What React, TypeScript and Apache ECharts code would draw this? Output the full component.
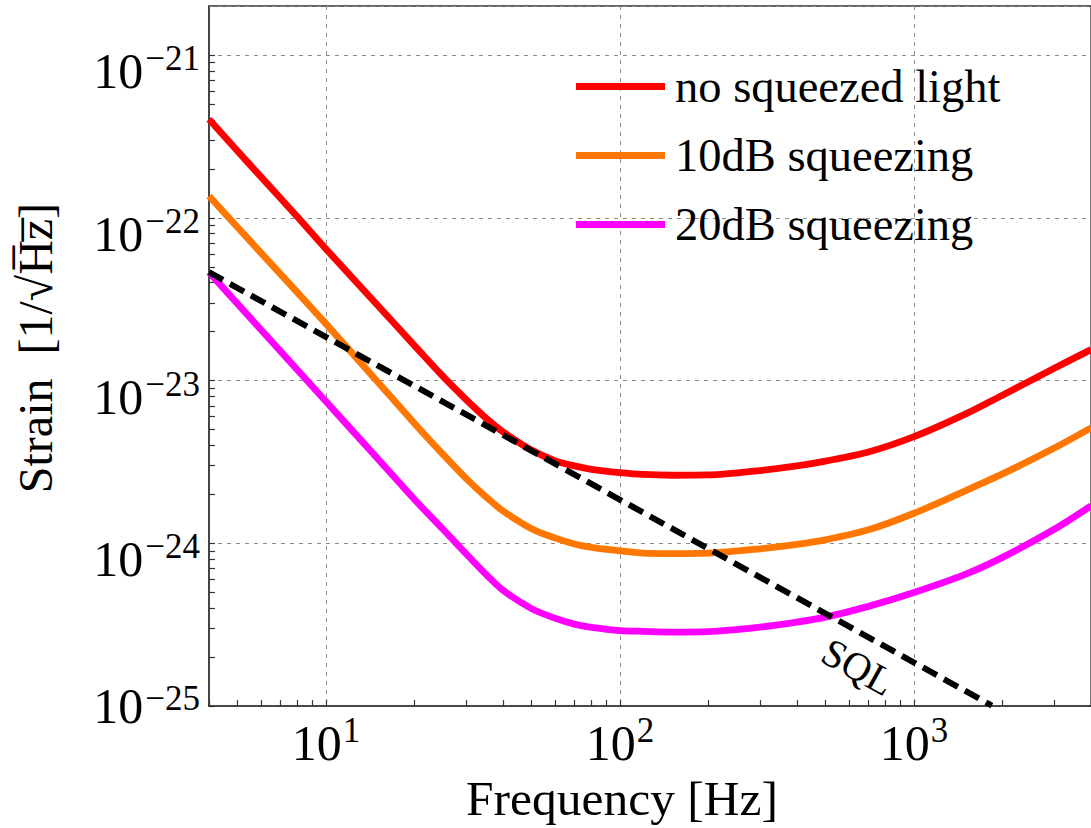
import React, { useEffect, useRef } from 'react';
import * as echarts from 'echarts';

// Frequencies in Hz at which the curves were read
const frequencies = [4, 5, 6, 8, 10, 15, 20, 25, 30, 35, 40, 50, 60, 70, 80, 100, 120, 150, 200, 300, 400, 500, 700, 1000, 1500, 2000, 3000, 4000];
// Strain [1/sqrt(Hz)]
const noSqueezedLight = [4.03e-22, 2.57e-22, 1.79e-22, 1.01e-22, 6.43e-23, 2.89e-23, 1.64e-23, 1.06e-23, 7.62e-24, 5.88e-24, 4.84e-24, 3.74e-24, 3.22e-24, 2.99e-24, 2.85e-24, 2.72e-24, 2.65e-24, 2.62e-24, 2.63e-24, 2.8e-24, 2.99e-24, 3.2e-24, 3.64e-24, 4.52e-24, 6.24e-24, 8.13e-24, 1.19e-23, 1.55e-23];
const squeezing10dB = [1.36e-22, 8.75e-23, 6.11e-23, 3.47e-23, 2.23e-23, 9.8e-24, 5.45e-24, 3.52e-24, 2.5e-24, 1.93e-24, 1.58e-24, 1.23e-24, 1.08e-24, 9.91e-25, 9.44e-25, 8.99e-25, 8.71e-25, 8.65e-25, 8.71e-25, 9.26e-25, 9.85e-25, 1.05e-24, 1.21e-24, 1.53e-24, 2.11e-24, 2.67e-24, 3.85e-24, 5.12e-24];
const squeezing20dB = [4.63e-23, 2.96e-23, 2.06e-23, 1.16e-23, 7.43e-24, 3.31e-24, 1.86e-24, 1.22e-24, 8.6e-25, 6.45e-25, 5.15e-25, 3.97e-25, 3.47e-25, 3.19e-25, 3.05e-25, 2.91e-25, 2.88e-25, 2.85e-25, 2.87e-25, 3.06e-25, 3.28e-25, 3.52e-25, 4.1e-25, 4.99e-25, 6.47e-25, 8.2e-25, 1.22e-24, 1.7e-24];
// Standard quantum limit (straight line in log-log)
const sqlFrequencies = [4, 1840];
const sqlStrain = [4.63e-23, 1.007e-25];

const seriesNames = ['no squeezed light', '10dB squeezing', '20dB squeezing'];
const seriesColors = ['#ff0000', '#ff7700', '#ff00ff'];

// Axis ranges and tick labels
const xRange = [4, 4000];
const yRange = [1e-25, 2e-21];
const xLabelValues = [10, 100, 1000];
const yLabelValues = [1e-25, 1e-24, 1e-23, 1e-22, 1e-21];
const minorMultipliers = [1, 2, 3, 4, 5, 6, 7, 8, 9];

// ECharts rounds very small numbers on log axes, so strain is plotted in units of 1e-25
const STRAIN_UNIT_EXP = -25;
const toUnit = (v: number) => v / Math.pow(10, STRAIN_UNIT_EXP);

const FONT = '"Liberation Serif", "Times New Roman", serif';

const buildMinorTicks = (decades: number[], lo: number, hi: number) => {
  const out: number[] = [];
  decades.forEach((d) => minorMultipliers.forEach((m) => {
    const v = d * m;
    if (v >= lo * 0.999 && v <= hi * 1.001) out.push(v);
  }));
  return out;
};

const isDecade = (v: number) => Math.abs(Math.log10(v) - Math.round(Math.log10(v))) < 1e-6;
const expOf = (v: number) => Math.round(Math.log10(v));

export default function App() {
  const ref = useRef<HTMLDivElement>(null);

  useEffect(() => {
    if (!ref.current) return;
    const chart = echarts.init(ref.current, undefined, { renderer: 'svg' });

    const yMin = toUnit(yRange[0]);
    const yMax = toUnit(yRange[1]);
    const xMinor = buildMinorTicks([1, 10, 100, 1000], xRange[0], xRange[1]);
    const yMinor = buildMinorTicks(yLabelValues.map(toUnit), yMin, yMax);

    const mk = (ys: number[]) => frequencies.map((f, i) => [f, toUnit(ys[i])]);
    const curves = [noSqueezedLight, squeezing10dB, squeezing20dB];

    const axisColor = '#333333';
    const gridLine = { show: true, lineStyle: { color: '#8c8c8c', width: 1, type: [4, 5] as any } };
    const hidden = { show: false };

    const xRich = {
      b: { fontSize: 50, fontFamily: FONT, color: '#000', lineHeight: 50, padding: [5, 0, 0, 0], verticalAlign: 'top' },
      s: { fontSize: 35, fontFamily: FONT, color: '#000', lineHeight: 35, padding: [0, 0, 0, 1], verticalAlign: 'top' },
    };
    const yRich = {
      b: { fontSize: 50, fontFamily: FONT, color: '#000', lineHeight: 50, padding: [16, 0, 0, 0], verticalAlign: 'top' },
      s: { fontSize: 35, fontFamily: FONT, color: '#000', lineHeight: 35, padding: [11, 0, 0, 2], verticalAlign: 'top' },
      // lowest label sits a little higher, clear of the frequency labels
      b0: { fontSize: 50, fontFamily: FONT, color: '#000', lineHeight: 50, padding: [0, 0, 16, 0], verticalAlign: 'top' },
      s0: { fontSize: 35, fontFamily: FONT, color: '#000', lineHeight: 30, padding: [0, 0, 0, 2], verticalAlign: 'top' },
    };

    const yFormatter = (v: number) => {
      if (!isDecade(v)) return '';
      const e = -(expOf(v) + STRAIN_UNIT_EXP);
      const low = Math.abs(v - yMin) < 1e-9;
      return low ? `{b0|10}{s0|\u2212${e}}` : `{b|10}{s|\u2212${e}}`;
    };

    chart.setOption({
      animation: false,
      backgroundColor: '#ffffff',
      grid: {
        left: 209, right: -5, top: 6, bottom: 120,
        show: true, borderColor: axisColor, borderWidth: 1.3, backgroundColor: 'transparent',
      },
      legend: {
        data: seriesNames,
        orient: 'vertical',
        left: 571,
        top: 58,
        icon: 'rect',
        itemWidth: 89,
        itemHeight: 7,
        itemGap: 22,
        selectedMode: false,
        textStyle: { fontSize: 46.5, fontFamily: FONT, color: '#000', lineHeight: 46, padding: [0, 0, 0, 5] },
      },
      xAxis: [
        {
          type: 'log',
          logBase: 10,
          min: xRange[0],
          max: xRange[1],
          position: 'bottom',
          axisLine: { show: true, lineStyle: { color: axisColor, width: 1.5 } },
          axisTick: hidden,
          minorTick: hidden,
          splitLine: gridLine,
          axisLabel: {
            customValues: xLabelValues,
            margin: 7,
            formatter: (v: number) => (isDecade(v) ? `{b|10}{s|${expOf(v)}}` : ''),
            rich: xRich,
          },
          name: 'Frequency [Hz]',
          nameLocation: 'middle',
          nameGap: 66,
          nameTextStyle: { fontSize: 49.5, fontFamily: FONT, color: '#000', padding: [0, 56, 0, 0] },
        },
        {
          type: 'log',
          logBase: 10,
          min: xRange[0],
          max: xRange[1],
          position: 'bottom',
          axisLine: hidden,
          axisTick: { show: true, inside: true, length: 6, customValues: xMinor, lineStyle: { color: axisColor, width: 1.2 } },
          minorTick: hidden,
          splitLine: hidden,
          axisLabel: hidden,
        },
      ],
      yAxis: [
        {
          type: 'log',
          logBase: 10,
          min: yMin,
          max: yMax,
          position: 'left',
          axisLine: { show: true, lineStyle: { color: axisColor, width: 1.5 } },
          axisTick: hidden,
          minorTick: hidden,
          splitLine: gridLine,
          axisLabel: {
            customValues: yLabelValues.map(toUnit),
            margin: 9,
            formatter: yFormatter,
            rich: yRich,
          },
          name: 'Strain  [1/\u221AH\u0305z\u0305]',
          nameLocation: 'middle',
          nameGap: 150,
          nameTextStyle: { fontSize: 48, fontFamily: FONT, color: '#000', padding: [0, 0, 0, 16] },
        },
        {
          type: 'log',
          logBase: 10,
          min: yMin,
          max: yMax,
          position: 'left',
          axisLine: hidden,
          axisTick: { show: true, inside: true, length: 6, customValues: yMinor, lineStyle: { color: axisColor, width: 1.2 } },
          minorTick: hidden,
          splitLine: hidden,
          axisLabel: hidden,
        },
      ],
      graphic: [
        {
          type: 'text',
          x: 858,
          y: 667,
          rotation: -0.505,
          style: { text: 'SQL', font: `40px ${FONT}`, fill: '#000', align: 'center', verticalAlign: 'middle', textAlign: 'center', textVerticalAlign: 'middle' } as any,
          z: 100,
        },
      ],
      series: [
        ...curves.map((ys, i) => ({
          name: seriesNames[i],
          type: 'line',
          xAxisIndex: 0,
          yAxisIndex: 0,
          data: mk(ys),
          showSymbol: false,
          symbol: 'none',
          smooth: 0.3,
          color: seriesColors[i],
          itemStyle: { color: seriesColors[i] },
          lineStyle: { color: seriesColors[i], width: 6.8, join: 'round' },
          z: 2,
        })),
        {
          name: 'SQL',
          type: 'line',
          xAxisIndex: 0,
          yAxisIndex: 0,
          data: sqlFrequencies.map((f, i) => [f, toUnit(sqlStrain[i])]),
          showSymbol: false,
          symbol: 'none',
          color: '#000',
          lineStyle: { color: '#000', width: 6, type: [16, 8] as any, cap: 'butt' },
          z: 3,
        },
      ],
    } as any);

    return () => chart.dispose();
  }, []);

  return (
    <div
      ref={ref}
      style={{ position: 'fixed', left: 0, top: 0, width: 1091, height: 828, background: '#fff' }}
    />
  );
}
